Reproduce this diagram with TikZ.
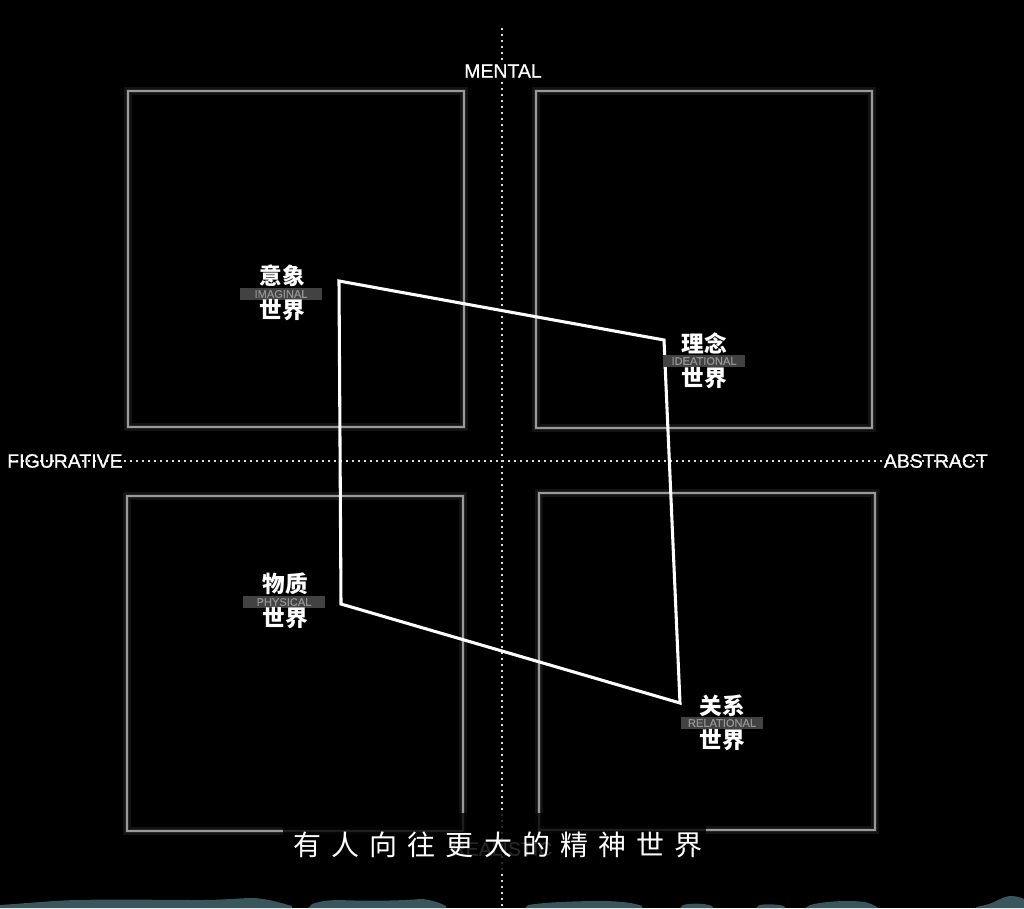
\documentclass[tikz,border=0pt]{standalone}
\usepackage{fontspec}
\setmainfont{Liberation Sans}
\newfontfamily\axisfont[FakeBold=0.6]{Liberation Sans}
\newfontfamily\cjk{Noto Sans CJK SC}
\newfontfamily\cjksub[LetterSpace=36]{Noto Sans CJK SC}
\definecolor{bandteal}{HTML}{3A565D}
\begin{document}
\begin{tikzpicture}[x=0.75pt,y=-0.75pt,
  glowA/.style={draw=white!7!black,line width=6pt},
  glowB/.style={draw=white!15!black,line width=3.4pt},
  boxline/.style={draw=white!60!black,line width=1.4pt},
  dots/.style={draw=white!85!black,line width=1.5pt,dash pattern=on 1.5pt off 3pt},
  axis/.style={text=white,font=\axisfont\fontsize{14.6}{16}\selectfont},
  cjklab/.style={text=white,font=\cjk\bfseries\fontsize{17}{25.5}\selectfont,align=center},
  band/.style={fill=white!26!black,minimum width=61.5pt,minimum height=9pt,inner sep=0pt,
    text=white!58!black,font=\axisfont\fontsize{8.3}{9}\selectfont},
  quad/.style={draw=white,line width=2.3pt,line join=miter},
  teal/.style={fill=bandteal}]
\fill[black] (0,0) rectangle (1024,908);
\useasboundingbox (0,0) rectangle (1024,908);
% axes
\coordinate (vt) at (502,28);
\coordinate (vb) at (502,908);
\coordinate (hl) at (10,461);
\coordinate (hr) at (985,461);
\draw[dots] (vt) -- (vb);
\draw[dots] (hl) -- (hr);
% boxes with glow
\foreach \st in {glowA,glowB,boxline}{
  \draw[\st] (128,91) rectangle (464,427);
  \draw[\st] (536,91) rectangle (872,428);
  \draw[\st] (127,496) rectangle (463,831);
  \draw[\st] (539,493) rectangle (875,830);
}
% axis labels
\node[axis,fill=black,inner sep=1pt] (mental) at (503,71) {MENTAL};
\node[axis,anchor=west,inner sep=0pt] (fig) at (7,461) {FIGURATIVE};
\node[axis,anchor=east,inner sep=0pt] (abs) at (988,461) {ABSTRACT};
\node[axis,text=white!75!black] (real) at (502,849) {REALISTIC};
% quadrilateral
\coordinate (q1) at (339,281);
\coordinate (q2) at (664,340);
\coordinate (q3) at (680,703);
\coordinate (q4) at (341,604);
\draw[quad] (q1) -- (q2) -- (q3) -- (q4) -- cycle;
% world labels
\node[band] (b1) at (281,294) {IMAGINAL};
\node[cjklab] (w1) at (282,293) {意象\\世界};
\node[band] (b2) at (704,361) {IDEATIONAL};
\node[cjklab] (w2) at (704,361) {理念\\世界};
\node[band] (b3) at (284,602) {PHYSICAL};
\node[cjklab] (w3) at (285,601) {物质\\世界};
\node[band] (b4) at (722,723) {RELATIONAL};
\node[cjklab] (w4) at (722,723) {关系\\世界};
% subtitle
\fill[black,opacity=0.8] (283,813) rectangle (706,873);
\node[text=white,font=\cjksub\fontsize{21}{24}\selectfont,inner sep=0pt] (sub) at (498,845) {有人向往更大的精神世界};
% bottom teal band
\fill[teal]
  (0,908) -- (0,905) .. controls (30,903) and (60,900) .. (80,900)
  .. controls (110,899) and (160,900) .. (200,900)
  .. controls (225,900) and (240,898) .. (252,898)
  .. controls (265,898) and (282,903) .. (292,906) -- (292,908) -- cycle;
\fill[teal]
  (308,908) -- (312,904) .. controls (320,901) and (330,900) .. (340,900)
  .. controls (360,901) and (400,901) .. (420,899)
  .. controls (430,899) and (440,903) .. (446,906) -- (446,908) -- cycle;
\fill[teal]
  (525,908) -- (528,905) .. controls (545,902) and (580,901) .. (600,901)
  .. controls (620,901) and (635,903) .. (642,906) -- (642,908) -- cycle;
\fill[teal]
  (680,908) -- (683,905) .. controls (690,903) and (705,903) .. (712,906) -- (713,908) -- cycle;
\fill[teal]
  (756,908) -- (759,905) .. controls (765,904) and (778,904) .. (784,906) -- (785,908) -- cycle;
\fill[teal]
  (805,908) -- (810,905) .. controls (825,901) and (850,900) .. (865,902)
  .. controls (872,904) and (876,906) .. (878,908) -- cycle;
\fill[teal]
  (975,908) -- (980,906) .. controls (995,904) and (1000,897) .. (1010,896)
  .. controls (1018,896) and (1022,898) .. (1024,899) -- (1024,908) -- cycle;
\end{tikzpicture}
\end{document}
